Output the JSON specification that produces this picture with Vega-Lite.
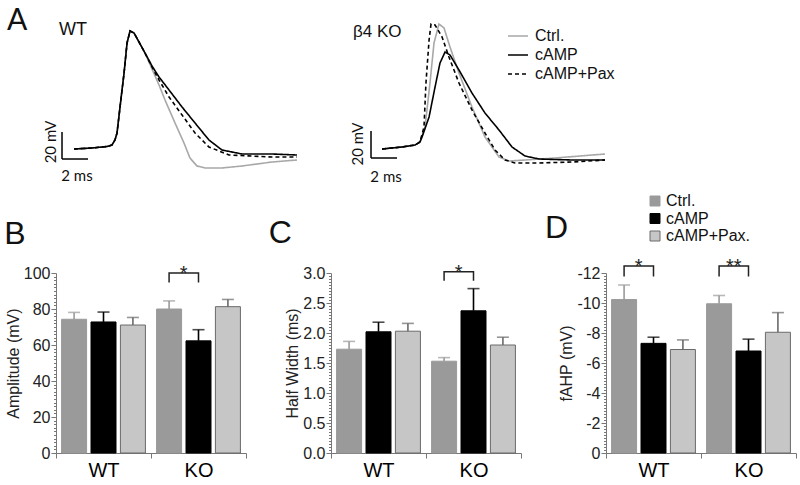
{
  "$schema": "https://vega.github.io/schema/vega-lite/v6.json",
  "padding": {"left": 4, "top": 5, "right": 5, "bottom": 5},
  "config": {
    "font": "Liberation Sans",
    "view": {"stroke": null},
    "axis": {"grid": false, "labelFont": "Liberation Sans", "titleFont": "Liberation Sans", "labelFontSize": 16, "titleFontSize": 16, "titleFontWeight": "normal", "labelColor": "#222", "titleColor": "#222", "domainColor": "#777", "tickColor": "#777"},
    "title": {"fontWeight": "normal", "color": "#111", "font": "Liberation Sans"},
    "legend": {"labelFont": "Liberation Sans"}
  },
  "datasets": {
    "traces": [
      {"g":"WT","c":"Ctrl.","t":0,"v":-65},{"g":"WT","c":"Ctrl.","t":1.38,"v":-64.26},{"g":"WT","c":"Ctrl.","t":2.54,"v":-63.15},{"g":"WT","c":"Ctrl.","t":2.92,"v":-62.04},{"g":"WT","c":"Ctrl.","t":3.15,"v":-58.33},{"g":"WT","c":"Ctrl.","t":3.31,"v":-53.15},{"g":"WT","c":"Ctrl.","t":3.54,"v":-33.89},{"g":"WT","c":"Ctrl.","t":3.85,"v":-8.7},{"g":"WT","c":"Ctrl.","t":4.08,"v":13.52},{"g":"WT","c":"Ctrl.","t":4.31,"v":22.41},{"g":"WT","c":"Ctrl.","t":4.62,"v":20.93},{"g":"WT","c":"Ctrl.","t":5.0,"v":14.26},{"g":"WT","c":"Ctrl.","t":5.46,"v":6.11},
      {"g":"WT","c":"Ctrl.","t":6.0,"v":-5.74},{"g":"WT","c":"Ctrl.","t":6.54,"v":-17.59},{"g":"WT","c":"Ctrl.","t":7.0,"v":-28.7},{"g":"WT","c":"Ctrl.","t":7.77,"v":-45.74},{"g":"WT","c":"Ctrl.","t":8.46,"v":-60.56},{"g":"WT","c":"Ctrl.","t":8.92,"v":-71.67},{"g":"WT","c":"Ctrl.","t":9.46,"v":-77.59},{"g":"WT","c":"Ctrl.","t":10.08,"v":-79.07},{"g":"WT","c":"Ctrl.","t":11.38,"v":-79.07},{"g":"WT","c":"Ctrl.","t":12.92,"v":-77.59},{"g":"WT","c":"Ctrl.","t":15.23,"v":-74.63},{"g":"WT","c":"Ctrl.","t":17.15,"v":-73.15},
      {"g":"WT","c":"cAMP","t":0,"v":-65},{"g":"WT","c":"cAMP","t":1.38,"v":-64.26},{"g":"WT","c":"cAMP","t":2.54,"v":-63.15},{"g":"WT","c":"cAMP","t":2.92,"v":-62.04},{"g":"WT","c":"cAMP","t":3.15,"v":-58.33},{"g":"WT","c":"cAMP","t":3.31,"v":-53.15},{"g":"WT","c":"cAMP","t":3.54,"v":-33.89},{"g":"WT","c":"cAMP","t":3.85,"v":-8.7},{"g":"WT","c":"cAMP","t":4.08,"v":13.52},{"g":"WT","c":"cAMP","t":4.31,"v":22.41},{"g":"WT","c":"cAMP","t":4.62,"v":20.93},{"g":"WT","c":"cAMP","t":5.0,"v":14.26},{"g":"WT","c":"cAMP","t":5.46,"v":6.11},
      {"g":"WT","c":"cAMP","t":6.0,"v":-3.52},{"g":"WT","c":"cAMP","t":6.54,"v":-11.67},{"g":"WT","c":"cAMP","t":7.31,"v":-21.3},{"g":"WT","c":"cAMP","t":8.31,"v":-33.89},{"g":"WT","c":"cAMP","t":9.31,"v":-45.74},{"g":"WT","c":"cAMP","t":10.38,"v":-58.33},{"g":"WT","c":"cAMP","t":11.38,"v":-65.74},{"g":"WT","c":"cAMP","t":12.92,"v":-68.7},{"g":"WT","c":"cAMP","t":15.23,"v":-68.7},{"g":"WT","c":"cAMP","t":17.15,"v":-69.44},
      {"g":"WT","c":"cAMP+Pax","t":0,"v":-65},{"g":"WT","c":"cAMP+Pax","t":1.38,"v":-64.26},{"g":"WT","c":"cAMP+Pax","t":2.54,"v":-63.15},{"g":"WT","c":"cAMP+Pax","t":2.92,"v":-62.04},{"g":"WT","c":"cAMP+Pax","t":3.15,"v":-58.33},{"g":"WT","c":"cAMP+Pax","t":3.31,"v":-53.15},{"g":"WT","c":"cAMP+Pax","t":3.54,"v":-33.89},{"g":"WT","c":"cAMP+Pax","t":3.85,"v":-8.7},{"g":"WT","c":"cAMP+Pax","t":4.08,"v":13.52},{"g":"WT","c":"cAMP+Pax","t":4.31,"v":22.41},{"g":"WT","c":"cAMP+Pax","t":4.62,"v":20.93},{"g":"WT","c":"cAMP+Pax","t":5.0,"v":14.26},{"g":"WT","c":"cAMP+Pax","t":5.46,"v":6.11},
      {"g":"WT","c":"cAMP+Pax","t":6.0,"v":-4.26},{"g":"WT","c":"cAMP+Pax","t":6.54,"v":-13.89},{"g":"WT","c":"cAMP+Pax","t":7.31,"v":-26.48},{"g":"WT","c":"cAMP+Pax","t":8.31,"v":-39.81},{"g":"WT","c":"cAMP+Pax","t":9.31,"v":-53.15},{"g":"WT","c":"cAMP+Pax","t":10.38,"v":-63.52},{"g":"WT","c":"cAMP+Pax","t":11.92,"v":-69.44},{"g":"WT","c":"cAMP+Pax","t":15.23,"v":-70.93},{"g":"WT","c":"cAMP+Pax","t":17.15,"v":-70.93},
      {"g":"KO","c":"Ctrl.","t":0,"v":-65},{"g":"KO","c":"Ctrl.","t":1.54,"v":-63.52},{"g":"KO","c":"Ctrl.","t":2.54,"v":-62.04},{"g":"KO","c":"Ctrl.","t":2.92,"v":-59.81},{"g":"KO","c":"Ctrl.","t":3.31,"v":-48.7},{"g":"KO","c":"Ctrl.","t":3.69,"v":-16.11},{"g":"KO","c":"Ctrl.","t":4.0,"v":13.52},{"g":"KO","c":"Ctrl.","t":4.38,"v":27.59},{"g":"KO","c":"Ctrl.","t":4.77,"v":24.63},{"g":"KO","c":"Ctrl.","t":5.23,"v":10.56},{"g":"KO","c":"Ctrl.","t":5.92,"v":-8.7},{"g":"KO","c":"Ctrl.","t":6.92,"v":-33.89},{"g":"KO","c":"Ctrl.","t":7.92,"v":-56.11},{"g":"KO","c":"Ctrl.","t":9.0,"v":-70.93},{"g":"KO","c":"Ctrl.","t":9.77,"v":-73.89},{"g":"KO","c":"Ctrl.","t":11.0,"v":-73.15},{"g":"KO","c":"Ctrl.","t":13.31,"v":-71.67},{"g":"KO","c":"Ctrl.","t":17.15,"v":-68.7},
      {"g":"KO","c":"cAMP","t":0,"v":-65},{"g":"KO","c":"cAMP","t":1.54,"v":-63.52},{"g":"KO","c":"cAMP","t":2.54,"v":-62.04},{"g":"KO","c":"cAMP","t":2.92,"v":-59.81},{"g":"KO","c":"cAMP","t":3.08,"v":-56.11},{"g":"KO","c":"cAMP","t":3.62,"v":-41.3},{"g":"KO","c":"cAMP","t":4.08,"v":-19.07},{"g":"KO","c":"cAMP","t":4.46,"v":-1.3},{"g":"KO","c":"cAMP","t":4.85,"v":6.85},{"g":"KO","c":"cAMP","t":5.23,"v":4.63},{"g":"KO","c":"cAMP","t":5.92,"v":-6.48},{"g":"KO","c":"cAMP","t":6.92,"v":-23.52},{"g":"KO","c":"cAMP","t":7.92,"v":-38.33},{"g":"KO","c":"cAMP","t":9.0,"v":-50.93},{"g":"KO","c":"cAMP","t":10.0,"v":-63.52},{"g":"KO","c":"cAMP","t":11.0,"v":-70.19},{"g":"KO","c":"cAMP","t":12.08,"v":-72.41},{"g":"KO","c":"cAMP","t":14.62,"v":-73.15},{"g":"KO","c":"cAMP","t":17.15,"v":-73.15},
      {"g":"KO","c":"cAMP+Pax","t":0,"v":-65},{"g":"KO","c":"cAMP+Pax","t":1.54,"v":-63.52},{"g":"KO","c":"cAMP+Pax","t":2.54,"v":-62.04},{"g":"KO","c":"cAMP+Pax","t":2.92,"v":-59.81},{"g":"KO","c":"cAMP+Pax","t":3.23,"v":-48.7},{"g":"KO","c":"cAMP+Pax","t":3.38,"v":-16.11},{"g":"KO","c":"cAMP+Pax","t":3.62,"v":15.74},{"g":"KO","c":"cAMP+Pax","t":3.77,"v":27.59},{"g":"KO","c":"cAMP+Pax","t":4.08,"v":26.85},{"g":"KO","c":"cAMP+Pax","t":4.62,"v":17.96},{"g":"KO","c":"cAMP+Pax","t":5.15,"v":3.15},{"g":"KO","c":"cAMP+Pax","t":5.92,"v":-16.11},{"g":"KO","c":"cAMP+Pax","t":6.92,"v":-36.11},{"g":"KO","c":"cAMP+Pax","t":7.92,"v":-53.15},{"g":"KO","c":"cAMP+Pax","t":8.69,"v":-65.74},{"g":"KO","c":"cAMP+Pax","t":9.46,"v":-73.15},{"g":"KO","c":"cAMP+Pax","t":10.23,"v":-75.37},{"g":"KO","c":"cAMP+Pax","t":12.08,"v":-75.37},{"g":"KO","c":"cAMP+Pax","t":14.62,"v":-74.63},{"g":"KO","c":"cAMP+Pax","t":17.15,"v":-73.15}
    ],
    "amp": [
      {"geno":"WT","cond":"Ctrl.","mean":74.3,"upper":78.1},
      {"geno":"WT","cond":"cAMP","mean":72.8,"upper":78.3},
      {"geno":"WT","cond":"cAMP+Pax.","mean":71.1,"upper":75.3},
      {"geno":"KO","cond":"Ctrl.","mean":80.0,"upper":84.5},
      {"geno":"KO","cond":"cAMP","mean":62.3,"upper":68.5},
      {"geno":"KO","cond":"cAMP+Pax.","mean":81.3,"upper":85.3}
    ],
    "hw": [
      {"geno":"WT","cond":"Ctrl.","mean":1.73,"upper":1.86},
      {"geno":"WT","cond":"cAMP","mean":2.02,"upper":2.18},
      {"geno":"WT","cond":"cAMP+Pax.","mean":2.03,"upper":2.16},
      {"geno":"KO","cond":"Ctrl.","mean":1.53,"upper":1.59},
      {"geno":"KO","cond":"cAMP","mean":2.37,"upper":2.74},
      {"geno":"KO","cond":"cAMP+Pax.","mean":1.80,"upper":1.93}
    ],
    "fahp": [
      {"geno":"WT","cond":"Ctrl.","mean":-10.23,"upper":-11.2},
      {"geno":"WT","cond":"cAMP","mean":-7.31,"upper":-7.72},
      {"geno":"WT","cond":"cAMP+Pax.","mean":-6.9,"upper":-7.54},
      {"geno":"KO","cond":"Ctrl.","mean":-9.95,"upper":-10.5},
      {"geno":"KO","cond":"cAMP","mean":-6.8,"upper":-7.59},
      {"geno":"KO","cond":"cAMP+Pax.","mean":-8.05,"upper":-9.36}
    ],
    "brk": [
      {"panel":"B","id":"b1","geno":"KO","cond":"Ctrl.","by":94.7,"ord":1},
      {"panel":"B","id":"b1","geno":"KO","cond":"Ctrl.","by":100,"ord":2},
      {"panel":"B","id":"b1","geno":"KO","cond":"cAMP","by":100,"ord":3},
      {"panel":"B","id":"b1","geno":"KO","cond":"cAMP","by":94.7,"ord":4},
      {"panel":"C","id":"c1","geno":"KO","cond":"Ctrl.","by":2.87,"ord":1},
      {"panel":"C","id":"c1","geno":"KO","cond":"Ctrl.","by":3.02,"ord":2},
      {"panel":"C","id":"c1","geno":"KO","cond":"cAMP","by":3.02,"ord":3},
      {"panel":"C","id":"c1","geno":"KO","cond":"cAMP","by":2.87,"ord":4},
      {"panel":"D","id":"d1","geno":"WT","cond":"Ctrl.","by":-11.77,"ord":1},
      {"panel":"D","id":"d1","geno":"WT","cond":"Ctrl.","by":-12.46,"ord":2},
      {"panel":"D","id":"d1","geno":"WT","cond":"cAMP","by":-12.46,"ord":3},
      {"panel":"D","id":"d1","geno":"WT","cond":"cAMP","by":-11.77,"ord":4},
      {"panel":"D","id":"d2","geno":"KO","cond":"Ctrl.","by":-11.77,"ord":1},
      {"panel":"D","id":"d2","geno":"KO","cond":"Ctrl.","by":-12.46,"ord":2},
      {"panel":"D","id":"d2","geno":"KO","cond":"cAMP","by":-12.46,"ord":3},
      {"panel":"D","id":"d2","geno":"KO","cond":"cAMP","by":-11.77,"ord":4}
    ],
    "stars": [
      {"panel":"B","geno":"KO","cond":"cAMP","sy":100,"label":"*"},
      {"panel":"C","geno":"KO","cond":"cAMP","sy":3.02,"label":"*"},
      {"panel":"D","geno":"WT","cond":"cAMP","sy":-12.46,"label":"*"},
      {"panel":"D","geno":"KO","cond":"cAMP","sy":-12.46,"label":"**"}
    ]
  },
  "spacing": 3,
  "vconcat": [
    {
      "hconcat": [
        {
          "width": 271, "height": 185,
          "layer": [
            {
              "data": {"name": "traces"},
              "transform": [{"filter": "datum.g == 'WT'"}],
              "mark": {"type": "line", "strokeWidth": 1.6},
              "encoding": {
                "x": {"field": "t", "type": "quantitative", "scale": {"domain": [-1.385, 19.46], "nice": false, "zero": false}, "axis": null},
                "y": {"field": "v", "type": "quantitative", "scale": {"domain": [-95.37, 41.67], "nice": false, "zero": false}, "axis": null},
                "color": {"field": "c", "type": "nominal", "scale": {"domain": ["Ctrl.", "cAMP", "cAMP+Pax"], "range": ["#a8a8a8", "#000000", "#000000"]}, "legend": null},
                "strokeDash": {"field": "c", "type": "nominal", "scale": {"domain": ["Ctrl.", "cAMP", "cAMP+Pax"], "range": [[1, 0], [1, 0], [4, 3]]}, "legend": null}
              }
            },
            {"data": {"values": [{}]}, "mark": {"type": "rule", "color": "#000", "strokeWidth": 1.5},
             "encoding": {"x": {"datum": -0.923, "type": "quantitative"}, "y": {"datum": -52.41, "type": "quantitative"}, "y2": {"datum": -72.41}}},
            {"data": {"values": [{}]}, "mark": {"type": "rule", "color": "#000", "strokeWidth": 1.5},
             "encoding": {"x": {"datum": -0.923, "type": "quantitative"}, "x2": {"datum": 1.077}, "y": {"datum": -72.41, "type": "quantitative"}}},
            {"data": {"values": [{}]}, "mark": {"type": "text", "text": "A", "font": "Lato", "fontSize": 30, "align": "left", "baseline": "alphabetic", "color": "#111"},
             "encoding": {"x": {"datum": -5.154, "type": "quantitative"}, "y": {"datum": 23.15, "type": "quantitative"}}},
            {"data": {"values": [{}]}, "mark": {"type": "text", "text": "WT", "fontSize": 18, "align": "left", "baseline": "alphabetic", "color": "#111"},
             "encoding": {"x": {"datum": -1.154, "type": "quantitative"}, "y": {"datum": 19.44, "type": "quantitative"}}},
            {"data": {"values": [{}]}, "mark": {"type": "text", "text": "20 mV", "font": "Lato", "fontSize": 15, "angle": 270, "align": "center", "baseline": "middle", "color": "#111"},
             "encoding": {"x": {"datum": -1.77, "type": "quantitative"}, "y": {"datum": -59.8, "type": "quantitative"}}},
            {"data": {"values": [{}]}, "mark": {"type": "text", "text": "2 ms", "font": "Lato", "fontSize": 15, "align": "center", "baseline": "middle", "color": "#111"},
             "encoding": {"x": {"datum": 0.23, "type": "quantitative"}, "y": {"datum": -85, "type": "quantitative"}}}
          ]
        },
        {
          "width": 460, "height": 185,
          "layer": [
            {
              "data": {"name": "traces"},
              "transform": [{"filter": "datum.g == 'KO'"}],
              "mark": {"type": "line", "strokeWidth": 1.6},
              "encoding": {
                "x": {"field": "t", "type": "quantitative", "scale": {"domain": [-3.462, 31.92], "nice": false, "zero": false}, "axis": null},
                "y": {"field": "v", "type": "quantitative", "scale": {"domain": [-95.37, 41.67], "nice": false, "zero": false}, "axis": null},
                "color": {"field": "c", "type": "nominal", "scale": {"domain": ["Ctrl.", "cAMP", "cAMP+Pax"], "range": ["#a8a8a8", "#000000", "#000000"]},
                  "legend": {"orient": "none", "legendX": 170, "legendY": 20, "title": null, "padding": 0, "labelFontSize": 16, "labelColor": "#111", "symbolType": "M-1,0H1", "symbolSize": 400, "symbolStrokeWidth": 1.6, "rowPadding": -2, "labelOffset": 6}},
                "strokeDash": {"field": "c", "type": "nominal", "scale": {"domain": ["Ctrl.", "cAMP", "cAMP+Pax"], "range": [[1, 0], [1, 0], [4, 3]]},
                  "legend": {"orient": "none", "legendX": 170, "legendY": 20, "title": null, "padding": 0, "labelFontSize": 16, "labelColor": "#111", "symbolType": "M-1,0H1", "symbolSize": 400, "symbolStrokeWidth": 1.6, "rowPadding": -2, "labelOffset": 6}}
              }
            },
            {"data": {"values": [{}]}, "mark": {"type": "rule", "color": "#000", "strokeWidth": 1.5},
             "encoding": {"x": {"datum": -0.846, "type": "quantitative"}, "y": {"datum": -51.67, "type": "quantitative"}, "y2": {"datum": -71.67}}},
            {"data": {"values": [{}]}, "mark": {"type": "rule", "color": "#000", "strokeWidth": 1.5},
             "encoding": {"x": {"datum": -0.846, "type": "quantitative"}, "x2": {"datum": 1.154}, "y": {"datum": -71.67, "type": "quantitative"}}},
            {"data": {"values": [{}]}, "mark": {"type": "text", "text": "β4 KO", "fontSize": 17, "align": "left", "baseline": "alphabetic", "color": "#111"},
             "encoding": {"x": {"datum": -2.23, "type": "quantitative"}, "y": {"datum": 17.96, "type": "quantitative"}}},
            {"data": {"values": [{}]}, "mark": {"type": "text", "text": "20 mV", "font": "Lato", "fontSize": 15, "angle": 270, "align": "center", "baseline": "middle", "color": "#111"},
             "encoding": {"x": {"datum": -1.846, "type": "quantitative"}, "y": {"datum": -61.3, "type": "quantitative"}}},
            {"data": {"values": [{}]}, "mark": {"type": "text", "text": "2 ms", "font": "Lato", "fontSize": 15, "align": "center", "baseline": "middle", "color": "#111"},
             "encoding": {"x": {"datum": 0.31, "type": "quantitative"}, "y": {"datum": -86.1, "type": "quantitative"}}}
          ]
        }
      ],
      "spacing": 10,
      "bounds": "flush",
      "resolve": {"scale": {"color": "independent", "strokeDash": "independent"}, "legend": {"color": "independent", "strokeDash": "independent"}}
    },
    {
      "hconcat": [
        {
          "width": 190, "height": 180,
          "title": {"text": "B", "anchor": "start", "frame": "bounds", "fontSize": 32, "baseline": "alphabetic", "offset": -12, "dx": -1},
          "data": {"name": "amp"},
          "encoding": {
            "x": {"field": "geno", "type": "nominal", "sort": ["WT", "KO"], "scale": {"paddingInner": 0, "paddingOuter": 0}, "axis": {"title": null, "labelAngle": 0, "labelFontSize": 20, "labelColor": "#000", "tickBand": "extent", "tickSize": 5, "labelPadding": 2}},
            "xOffset": {"field": "cond", "type": "nominal", "sort": ["Ctrl.", "cAMP", "cAMP+Pax."], "scale": {"paddingInner": 0.15, "paddingOuter": 0.19}}
          },
          "layer": [
            {"mark": {"type": "bar", "strokeWidth": 1},
             "encoding": {
               "y": {"field": "mean", "type": "quantitative", "scale": {"domain": [0, 100], "nice": false}, "axis": {"title": "Amplitude (mV)", "tickCount": 50, "labelExpr": "datum.value % 20 == 0 ? datum.label : ''", "tickSize": {"condition": {"test": "datum.value % 20 == 0", "value": 5}, "value": 2.5}, "labelOverlap": false, "labelPadding": 1, "titlePadding": 2}},
               "color": {"field": "cond", "type": "nominal", "scale": {"domain": ["Ctrl.", "cAMP", "cAMP+Pax."], "range": ["#9a9a9a", "#000000", "#c6c6c6"]}, "legend": null},
               "stroke": {"field": "cond", "type": "nominal", "scale": {"domain": ["Ctrl.", "cAMP", "cAMP+Pax."], "range": ["#9a9a9a", "#000000", "#6a6a6a"]}, "legend": null}
             }},
            {"mark": {"type": "rule", "strokeWidth": 1.6},
             "encoding": {"y": {"field": "mean", "type": "quantitative"}, "y2": {"field": "upper"}, "stroke": {"field": "cond", "type": "nominal", "legend": null}}},
            {"mark": {"type": "tick", "size": 12, "thickness": 1.6, "xOffset": 6},
             "encoding": {"y": {"field": "upper", "type": "quantitative"}, "fill": {"field": "cond", "type": "nominal", "scale": {"domain": ["Ctrl.", "cAMP", "cAMP+Pax."], "range": ["#9a9a9a", "#000000", "#6a6a6a"]}, "legend": null}}},
            {"data": {"name": "brk"}, "transform": [{"filter": "datum.panel == 'B'"}],
             "mark": {"type": "line", "color": "#222", "strokeWidth": 1.5},
             "encoding": {"y": {"field": "by", "type": "quantitative"}, "order": {"field": "ord", "type": "quantitative"}, "detail": {"field": "id"}}},
            {"data": {"name": "stars"}, "transform": [{"filter": "datum.panel == 'B'"}],
             "mark": {"type": "text", "fontSize": 20, "dx": -14.75, "dy": 7, "baseline": "alphabetic", "color": "#222"},
             "encoding": {"y": {"field": "sy", "type": "quantitative"}, "text": {"field": "label"}}}
          ]
        },
        {
          "width": 190, "height": 180,
          "title": {"text": "C", "anchor": "start", "frame": "bounds", "fontSize": 32, "baseline": "alphabetic", "offset": -12, "dx": -16},
          "data": {"name": "hw"},
          "encoding": {
            "x": {"field": "geno", "type": "nominal", "sort": ["WT", "KO"], "scale": {"paddingInner": 0, "paddingOuter": 0}, "axis": {"title": null, "labelAngle": 0, "labelFontSize": 20, "labelColor": "#000", "tickBand": "extent", "tickSize": 5, "labelPadding": 2}},
            "xOffset": {"field": "cond", "type": "nominal", "sort": ["Ctrl.", "cAMP", "cAMP+Pax."], "scale": {"paddingInner": 0.15, "paddingOuter": 0.19}}
          },
          "layer": [
            {"mark": {"type": "bar", "strokeWidth": 1},
             "encoding": {
               "y": {"field": "mean", "type": "quantitative", "scale": {"domain": [0, 3], "nice": false}, "axis": {"title": "Half Width (ms)", "tickCount": 60, "labelExpr": "abs(datum.value*2 - round(datum.value*2)) < 0.000001 ? format(datum.value, '.1f') : ''", "tickSize": {"condition": {"test": "abs(datum.value*2 - round(datum.value*2)) < 0.000001", "value": 5}, "value": 2.5}, "labelOverlap": false, "labelPadding": 1, "titlePadding": 2}},
               "color": {"field": "cond", "type": "nominal", "scale": {"domain": ["Ctrl.", "cAMP", "cAMP+Pax."], "range": ["#9a9a9a", "#000000", "#c6c6c6"]}, "legend": null},
               "stroke": {"field": "cond", "type": "nominal", "scale": {"domain": ["Ctrl.", "cAMP", "cAMP+Pax."], "range": ["#9a9a9a", "#000000", "#6a6a6a"]}, "legend": null}
             }},
            {"mark": {"type": "rule", "strokeWidth": 1.6},
             "encoding": {"y": {"field": "mean", "type": "quantitative"}, "y2": {"field": "upper"}, "stroke": {"field": "cond", "type": "nominal", "legend": null}}},
            {"mark": {"type": "tick", "size": 12, "thickness": 1.6, "xOffset": 6},
             "encoding": {"y": {"field": "upper", "type": "quantitative"}, "fill": {"field": "cond", "type": "nominal", "scale": {"domain": ["Ctrl.", "cAMP", "cAMP+Pax."], "range": ["#9a9a9a", "#000000", "#6a6a6a"]}, "legend": null}}},
            {"data": {"name": "brk"}, "transform": [{"filter": "datum.panel == 'C'"}],
             "mark": {"type": "line", "color": "#222", "strokeWidth": 1.5},
             "encoding": {"y": {"field": "by", "type": "quantitative"}, "order": {"field": "ord", "type": "quantitative"}, "detail": {"field": "id"}}},
            {"data": {"name": "stars"}, "transform": [{"filter": "datum.panel == 'C'"}],
             "mark": {"type": "text", "fontSize": 20, "dx": -14.75, "dy": 7, "baseline": "alphabetic", "color": "#222"},
             "encoding": {"y": {"field": "sy", "type": "quantitative"}, "text": {"field": "label"}}}
          ]
        },
        {
          "width": 190, "height": 180,
          "title": {"text": "D", "anchor": "start", "frame": "bounds", "fontSize": 32, "baseline": "alphabetic", "offset": -77, "dx": -14},
          "data": {"name": "fahp"},
          "encoding": {
            "x": {"field": "geno", "type": "nominal", "sort": ["WT", "KO"], "scale": {"paddingInner": 0, "paddingOuter": 0}, "axis": {"title": null, "labelAngle": 0, "labelFontSize": 20, "labelColor": "#000", "tickBand": "extent", "tickSize": 5, "labelPadding": 2}},
            "xOffset": {"field": "cond", "type": "nominal", "sort": ["Ctrl.", "cAMP", "cAMP+Pax."], "scale": {"paddingInner": 0.15, "paddingOuter": 0.19}}
          },
          "layer": [
            {"mark": {"type": "bar", "strokeWidth": 1},
             "encoding": {
               "y": {"field": "mean", "type": "quantitative", "scale": {"domain": [-12, 0], "nice": false, "reverse": true}, "axis": {"title": "fAHP (mV)", "tickCount": 60, "labelExpr": "abs(datum.value/2 - round(datum.value/2)) < 0.000001 ? '' + round(datum.value) : ''", "tickSize": {"condition": {"test": "abs(datum.value/2 - round(datum.value/2)) < 0.000001", "value": 5}, "value": 2.5}, "labelOverlap": false, "labelPadding": 1, "titlePadding": 2}},
               "color": {"field": "cond", "type": "nominal", "scale": {"domain": ["Ctrl.", "cAMP", "cAMP+Pax."], "range": ["#9a9a9a", "#000000", "#c6c6c6"]},
                 "legend": {"orient": "none", "legendX": 41, "legendY": -80, "title": null, "padding": 0, "labelFontSize": 16, "labelColor": "#111", "symbolType": "square", "symbolSize": 100, "symbolStrokeWidth": 1, "rowPadding": 1.5, "labelOffset": 3}},
               "stroke": {"field": "cond", "type": "nominal", "scale": {"domain": ["Ctrl.", "cAMP", "cAMP+Pax."], "range": ["#9a9a9a", "#000000", "#6a6a6a"]},
                 "legend": {"orient": "none", "legendX": 41, "legendY": -80, "title": null, "padding": 0, "labelFontSize": 16, "labelColor": "#111", "symbolType": "square", "symbolSize": 100, "symbolStrokeWidth": 1, "rowPadding": 1.5, "labelOffset": 3}}
             }},
            {"mark": {"type": "rule", "strokeWidth": 1.6},
             "encoding": {"y": {"field": "mean", "type": "quantitative"}, "y2": {"field": "upper"}, "stroke": {"field": "cond", "type": "nominal"}}},
            {"mark": {"type": "tick", "size": 12, "thickness": 1.6, "xOffset": 6},
             "encoding": {"y": {"field": "upper", "type": "quantitative"}, "fill": {"field": "cond", "type": "nominal", "scale": {"domain": ["Ctrl.", "cAMP", "cAMP+Pax."], "range": ["#9a9a9a", "#000000", "#6a6a6a"]}, "legend": null}}},
            {"data": {"name": "brk"}, "transform": [{"filter": "datum.panel == 'D'"}],
             "mark": {"type": "line", "color": "#222", "strokeWidth": 1.5},
             "encoding": {"y": {"field": "by", "type": "quantitative"}, "order": {"field": "ord", "type": "quantitative"}, "detail": {"field": "id"}}},
            {"data": {"name": "stars"}, "transform": [{"filter": "datum.panel == 'D'"}],
             "mark": {"type": "text", "fontSize": 20, "dx": -14.75, "dy": 7, "baseline": "alphabetic", "color": "#222"},
             "encoding": {"y": {"field": "sy", "type": "quantitative"}, "text": {"field": "label"}}}
          ]
        }
      ],
      "spacing": 85,
      "bounds": "flush",
      "resolve": {"scale": {"color": "independent", "stroke": "independent", "fill": "independent"}, "legend": {"color": "independent", "stroke": "independent", "fill": "independent"}}
    }
  ]
}
